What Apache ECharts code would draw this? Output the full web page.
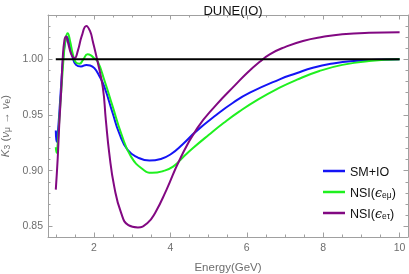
<!DOCTYPE html>
<html>
<head>
<meta charset="utf-8">
<style>
html,body{margin:0;padding:0;background:#fff;}
#c{width:409px;height:274px;}
</style>
<script src="https://cdn.jsdelivr.net/npm/echarts@6/dist/echarts.min.js"></script>
</head>
<body>
<div id="c"></div>
<script>
// ---- data ----
const titleText = 'DUNE(IO)';
const seriesNames = ['SM+IO', 'NSI(eμ)', 'NSI(eτ)'];
const xMajorTicks = [2, 4, 6, 8, 10];
const xMinorTicks = [1, 1.5, 2.5, 3, 3.5, 4.5, 5, 5.5, 6.5, 7, 7.5, 8.5, 9, 9.5];
const yMajorTicks = [0.85, 0.90, 0.95, 1.00];
const yMinorTicks = [0.86, 0.87, 0.88, 0.89, 0.91, 0.92, 0.93, 0.94, 0.96, 0.97, 0.98, 0.99, 1.01, 1.02, 1.03];

const smIO = [
  [1.0, 0.936], [1.02, 0.926], [1.05, 0.933], [1.1, 0.956], [1.15, 0.982], [1.2, 1.004],
  [1.25, 1.016], [1.29, 1.020], [1.35, 1.015], [1.44, 1.002], [1.53, 0.995], [1.66, 0.9935],
  [1.8, 0.995], [1.9, 0.9945], [2.01, 0.992], [2.14, 0.985], [2.27, 0.9754], [2.49, 0.9515],
  [2.66, 0.9336], [2.88, 0.9186], [3.14, 0.912], [3.45, 0.909], [3.75, 0.9105], [4.0, 0.9145],
  [4.33, 0.924], [4.68, 0.9355], [5.2, 0.950], [5.64, 0.961], [6.08, 0.970], [6.86, 0.982],
  [7.3, 0.9875], [7.73, 0.9925], [8.3, 0.9965], [8.8, 0.9985], [9.4, 0.9996], [10, 1.0]
];
const nsiEmu = [
  [1.0, 0.921], [1.02, 0.916], [1.05, 0.924], [1.1, 0.950], [1.16, 0.980], [1.22, 1.008],
  [1.26, 1.019], [1.31, 1.0235], [1.37, 1.017], [1.45, 1.004], [1.53, 0.997], [1.62, 0.996],
  [1.72, 1.0], [1.83, 1.0045], [1.92, 1.0035], [2.0, 1.001], [2.10, 0.9978], [2.27, 0.9814],
  [2.49, 0.9575], [2.71, 0.9336], [2.97, 0.9126], [3.3, 0.9006], [3.52, 0.898], [3.8, 0.8995],
  [4.07, 0.9036], [4.33, 0.912], [4.6, 0.9205], [5.0, 0.932], [5.4, 0.943], [5.8, 0.953],
  [6.3, 0.964], [6.86, 0.9745], [7.3, 0.9815], [7.9, 0.9895], [8.5, 0.995], [9.2, 0.9984], [10, 1.0]
];
const nsiEtau = [
  [1.0, 0.883], [1.05, 0.911], [1.09, 0.941], [1.14, 0.971], [1.18, 1.000], [1.225, 1.017],
  [1.27, 1.0205], [1.32, 1.015], [1.4, 1.005], [1.49, 1.001], [1.58, 1.008], [1.68, 1.021],
  [1.8, 1.030], [1.9, 1.025], [1.97, 1.016], [2.08, 1.0], [2.23, 0.975], [2.31, 0.9455],
  [2.40, 0.9156], [2.53, 0.8856], [2.71, 0.862], [2.9, 0.851], [3.15, 0.849], [3.4, 0.853],
  [3.6, 0.862], [3.9, 0.883], [4.24, 0.9096], [4.7, 0.938], [5.2, 0.959], [5.7, 0.977],
  [6.0, 0.9875], [6.33, 0.9975], [6.6, 1.0045], [7.0, 1.011], [7.47, 1.0165], [8.0, 1.0202],
  [8.5, 1.0225], [9.2, 1.0238], [10, 1.0242]
];
const refLine = [[1, 1], [10, 1]];

// ---- chart ----
const frame = '#a0a0a0';
const labelColor = '#6e6e6e';
const XMIN = 0.796, XMAX = 10.22, YMIN = 0.8404, YMAX = 1.0398;

function xAx(pos, ticks, len, labels) {
  return {
    type: 'value', position: pos, min: XMIN, max: XMAX,
    axisLine: { show: labels !== null, lineStyle: { color: frame, width: 1 } },
    splitLine: { show: false },
    axisTick: { show: true, inside: true, length: len, customValues: ticks, lineStyle: { color: frame, width: 1 } },
    axisLabel: labels ? { show: true, customValues: xMajorTicks, color: labelColor, fontSize: 10.5,
      fontFamily: 'Liberation Sans', margin: 6 } : { show: false }
  };
}
function yAx(pos, ticks, len, labels) {
  return {
    type: 'value', position: pos, min: YMIN, max: YMAX,
    axisLine: { show: labels !== null, lineStyle: { color: frame, width: 1 } },
    splitLine: { show: false },
    axisTick: { show: true, inside: true, length: len, customValues: ticks, lineStyle: { color: frame, width: 1 } },
    axisLabel: labels ? { show: true, customValues: yMajorTicks, color: labelColor, fontSize: 10.5,
      fontFamily: 'Liberation Sans', margin: 5, formatter: v => v.toFixed(2) } : { show: false }
  };
}

const xAxes = [
  xAx('bottom', xMajorTicks, 4.5, true),
  xAx('bottom', xMinorTicks, 2.5, null),
  xAx('top', xMajorTicks, 4.5, false),
  xAx('top', xMinorTicks, 2.5, null)
];
xAxes[0].name = 'Energy(GeV)';
xAxes[0].nameLocation = 'middle';
xAxes[0].nameGap = 25;
xAxes[0].nameTextStyle = { color: labelColor, fontSize: 11.5, fontFamily: 'Liberation Sans' };

const yAxes = [
  yAx('left', yMajorTicks, 4.5, true),
  yAx('left', yMinorTicks, 2.5, null),
  yAx('right', yMajorTicks, 4.5, false),
  yAx('right', yMinorTicks, 2.5, null)
];
yAxes[0].name = '{i|K}{s|3}{n| (}{i|ν}{s|μ}{n| → }{i|ν}{s|e}{n|)}';
yAxes[0].nameLocation = 'middle';
yAxes[0].nameGap = 33;
yAxes[0].nameTextStyle = {
  color: labelColor, fontFamily: 'Liberation Sans',
  rich: {
    n: { fontSize: 11.5, lineHeight: 14, verticalAlign: 'bottom', color: labelColor, fontFamily: 'Liberation Sans' },
    i: { fontSize: 11.5, lineHeight: 14, verticalAlign: 'bottom', fontStyle: 'italic', color: labelColor, fontFamily: 'Liberation Sans' },
    s: { fontSize: 8.5, lineHeight: 9, verticalAlign: 'bottom', color: labelColor, fontFamily: 'Liberation Sans' }
  }
};

const colors = ['#1414f5', '#1ff01f', '#820882'];
const datasets = [smIO, nsiEmu, nsiEtau];

const series = datasets.map((d, i) => ({
  name: seriesNames[i], type: 'line', data: d, xAxisIndex: 0, yAxisIndex: 0,
  showSymbol: false, symbol: 'none', smooth: 0.5,
  color: colors[i], itemStyle: { color: colors[i] },
  lineStyle: { color: colors[i], width: 2 }, z: 2 + i, silent: true, animation: false
}));
series.push({
  name: 'ref', type: 'line', data: refLine, showSymbol: false, symbol: 'none',
  lineStyle: { color: '#000', width: 2 }, z: 10, silent: true, animation: false
});

function legendFmt(name) {
  if (name === 'SM+IO') return '{n|SM+IO}';
  const sub = name === 'NSI(eμ)' ? 'eμ' : 'eτ';
  return '{n|NSI(}{g|ϵ}{s|' + sub + '}{n|)}';
}

const option = {
  animation: false,
  backgroundColor: '#fff',
  title: {
    text: titleText, left: 228, top: 0, textAlign: 'center',
    textStyle: { fontSize: 13, fontWeight: 'normal', color: '#111', fontFamily: 'Liberation Sans' }
  },
  grid: { left: 48, right: 1, top: 15, bottom: 37, containLabel: false, outerBoundsMode: 'none' },
  xAxis: xAxes,
  yAxis: yAxes,
  legend: {
    data: seriesNames, orient: 'vertical', left: 318, top: 161, itemGap: 8,
    icon: 'rect', itemWidth: 22, itemHeight: 2.5, selectedMode: false,
    formatter: legendFmt,
    textStyle: {
      color: '#111', fontSize: 12, fontFamily: 'Liberation Sans',
      rich: {
        n: { fontSize: 12.5, lineHeight: 16, verticalAlign: 'bottom', color: '#111', fontFamily: 'Liberation Sans' },
        g: { fontSize: 12.5, lineHeight: 16, verticalAlign: 'bottom', fontStyle: 'italic', color: '#111', fontFamily: 'DejaVu Serif' },
        s: { fontSize: 8.5, lineHeight: 10, verticalAlign: 'bottom', color: '#111', fontFamily: 'Liberation Sans' }
      }
    }
  },
  series: series
};

const chart = echarts.init(document.getElementById('c'), null, { renderer: 'canvas' });
chart.setOption(option);
</script>
</body>
</html>
